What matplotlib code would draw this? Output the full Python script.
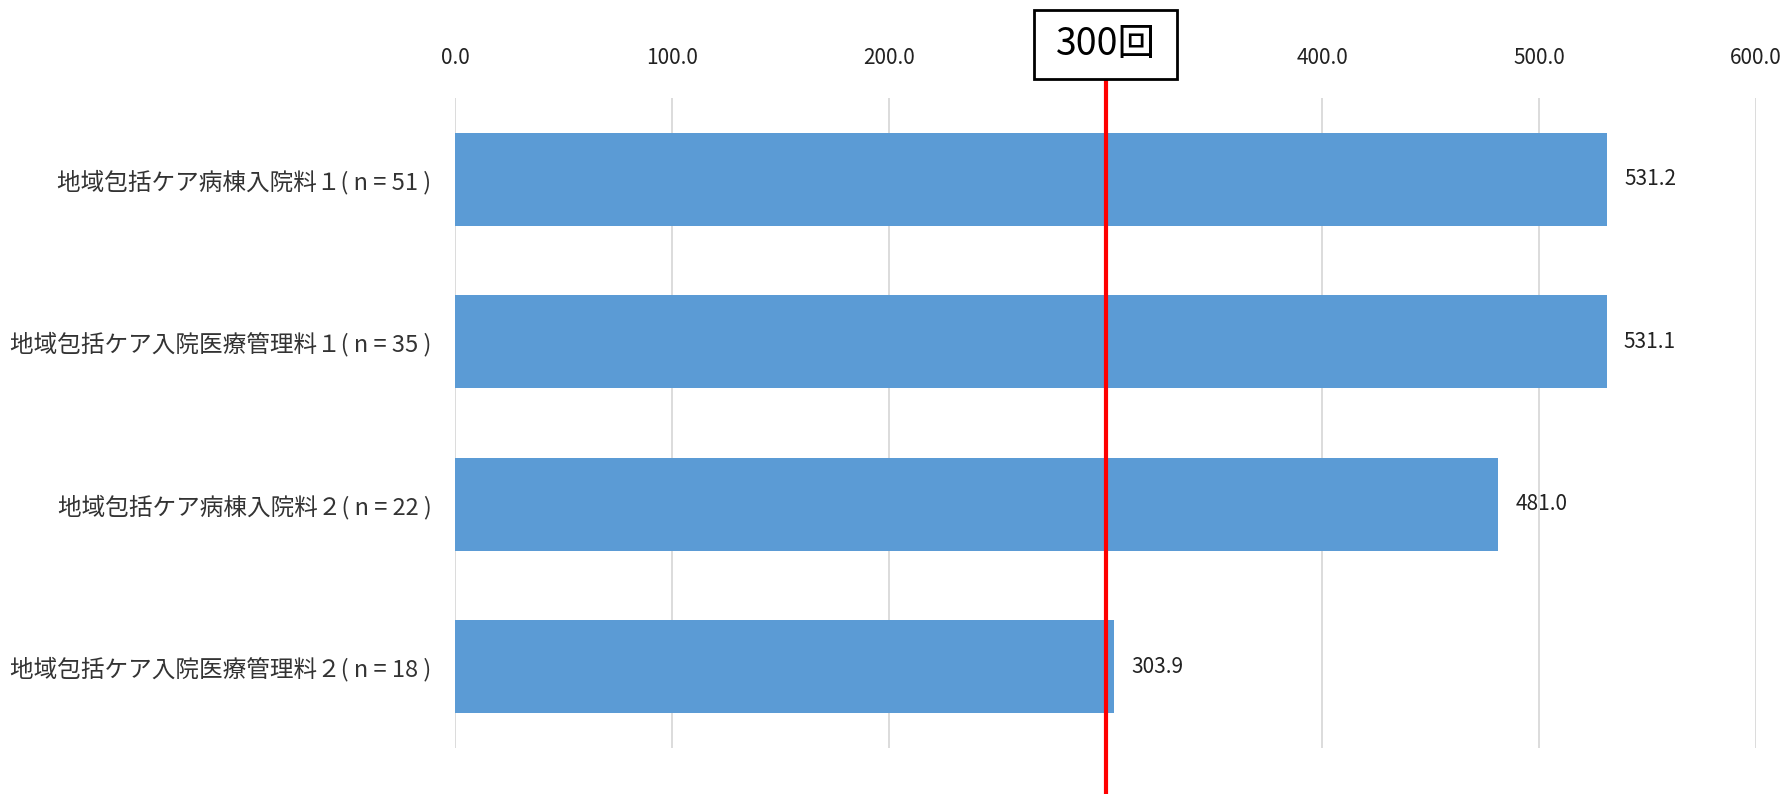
import matplotlib.pyplot as plt
from matplotlib.patches import Rectangle

plt.rcParams['font.family'] = ['Noto Sans CJK JP', 'DejaVu Sans']

# data
labels = ['地域包括ケア病棟入院料１( n = 51 )',
          '地域包括ケア入院医療管理料１( n = 35 )',
          '地域包括ケア病棟入院料２( n = 22 )',
          '地域包括ケア入院医療管理料２( n = 18 )']
values = [531.2, 531.1, 481.0, 303.9]
xticks = [0, 100, 200, 300, 400, 500, 600]
threshold = 300
threshold_label = '300回'

fig = plt.figure(figsize=(17.9, 7.94), dpi=100)
ax = fig.add_axes([0.2542, 0.0579, 0.7268, 0.8186])

ypos = range(len(labels))
ax.barh(ypos, values, height=0.57, color='#5B9BD5', zorder=2)
ax.set_ylim(len(labels) - 0.5, -0.5)
ax.set_xlim(0, 600)

ax.set_yticks(list(ypos))
ax.set_yticklabels(labels, fontsize=17, color='#333333')
ax.set_xticks(xticks)
# the 300.0 label sits under the threshold box, so leave it blank
ax.set_xticklabels(['' if t == threshold else f'{t:.1f}' for t in xticks],
                   fontsize=15, color='#222222')
ax.xaxis.tick_top()
ax.tick_params(axis='both', length=0)
ax.tick_params(axis='x', pad=21)
ax.tick_params(axis='y', pad=17)
for s in ax.spines.values():
    s.set_visible(False)
ax.grid(axis='x', color='#D9D9D9', linewidth=1.3, zorder=0)

for y, v in zip(ypos, values):
    ax.text(v + 8, y, f'{v:.1f}', va='center', ha='left', fontsize=15, color='#222222')

# red threshold line and box
trans = ax.get_xaxis_transform()
ax.plot([threshold, threshold], [-0.075, 1.03], color='#FF0000', linewidth=3,
        transform=trans, clip_on=False, zorder=5)
ax.add_patch(Rectangle((threshold - 33, 1.03), 66, 0.105, transform=trans,
                       facecolor='white', edgecolor='black', linewidth=2,
                       clip_on=False, zorder=6))
ax.text(threshold, 1.0825, threshold_label, transform=trans, ha='center', va='center',
        fontsize=27, color='black', zorder=7)

fig.savefig('out.png', dpi=100)
